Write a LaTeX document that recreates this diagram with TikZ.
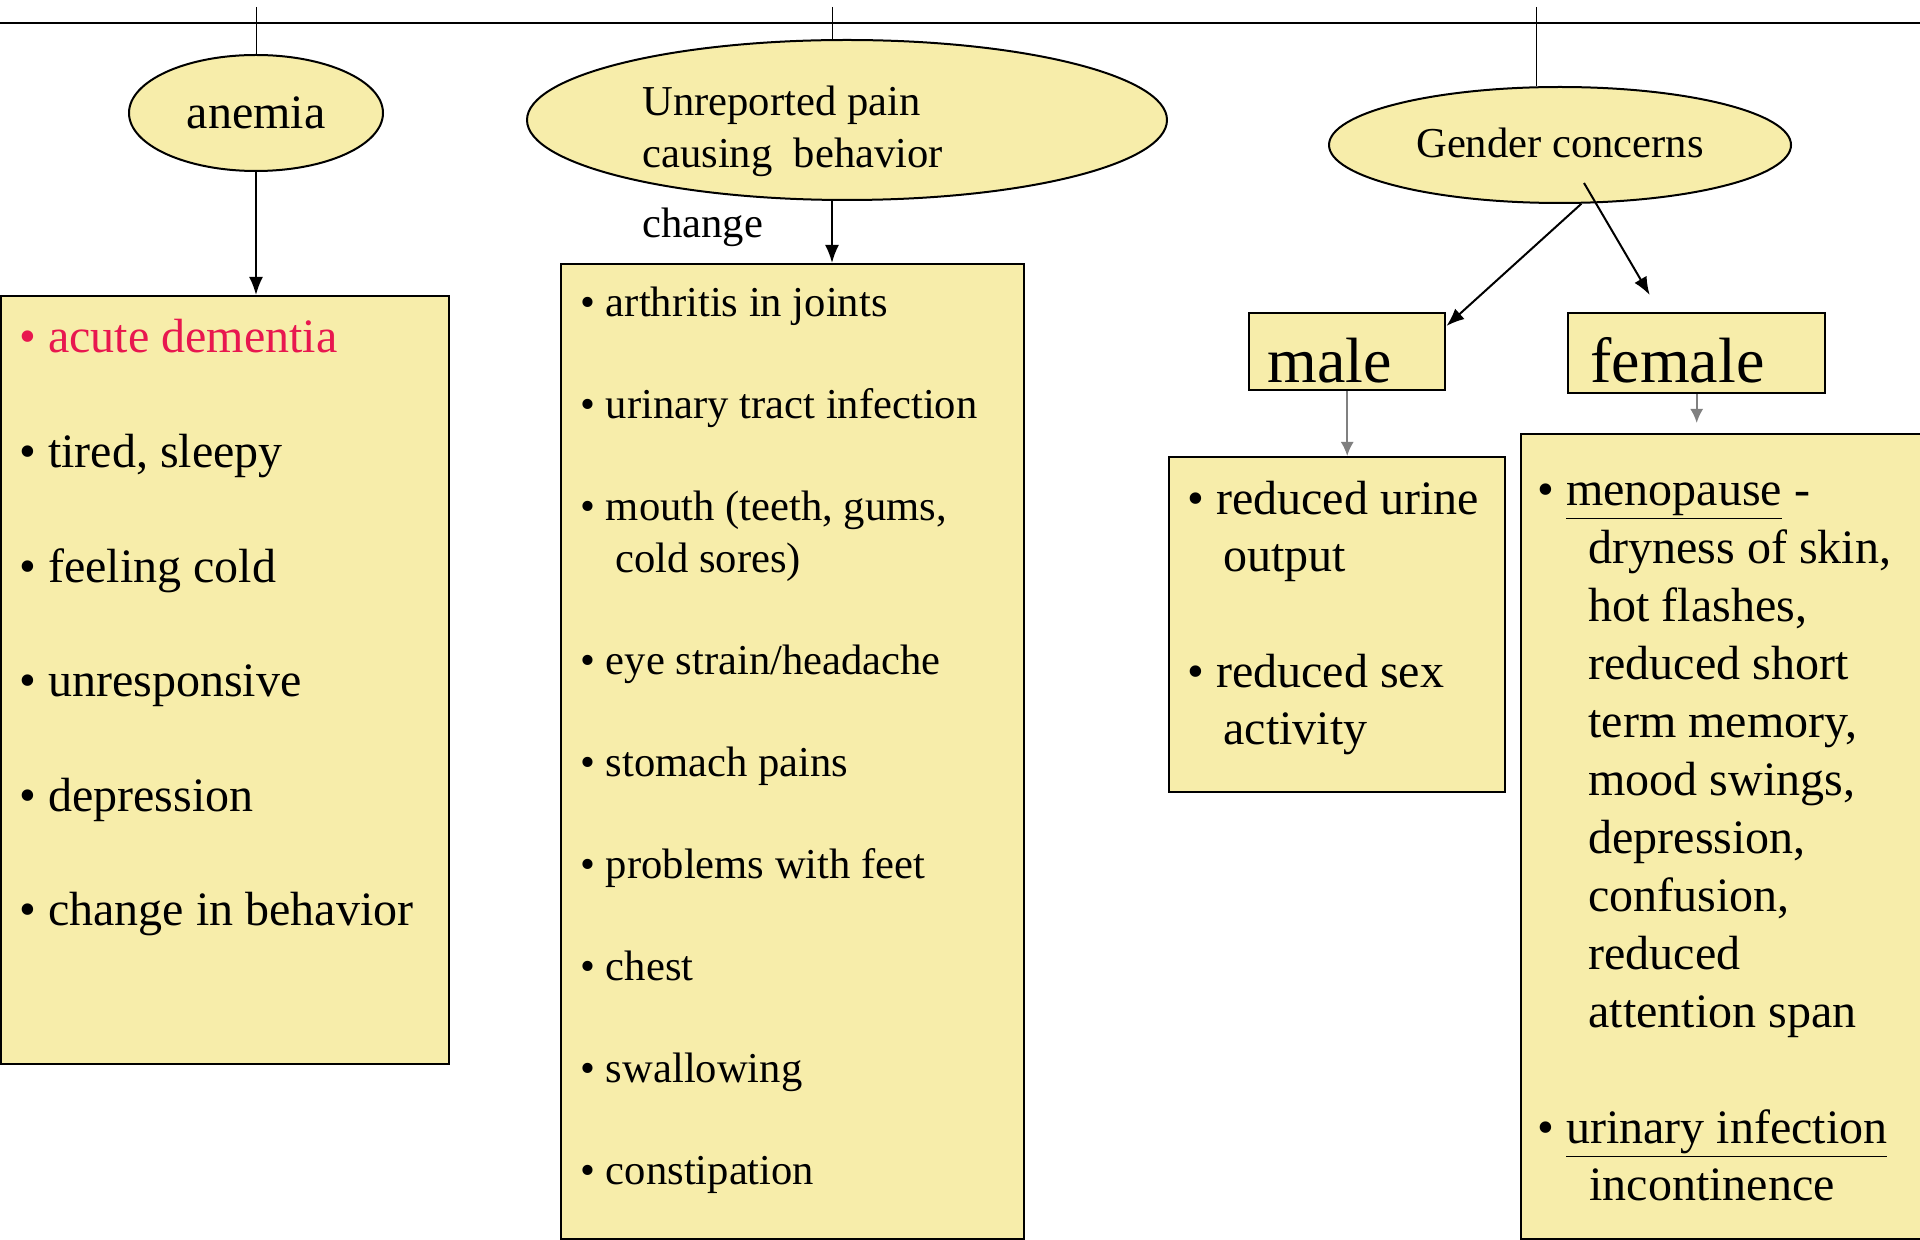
\documentclass[tikz,border=0pt]{standalone}
\usepackage{fontspec}
\setmainfont{Liberation Serif}
\usetikzlibrary{arrows.meta,calc,shapes.geometric}

\definecolor{boxfill}{HTML}{F7EDAA}
\definecolor{alertred}{HTML}{E8174F}
\newcommand{\bigfont}{\fontsize{24}{28}\selectfont}
\newcommand{\midfont}{\fontsize{21.3}{25}\selectfont}
\newcommand{\hugefont}{\fontsize{32}{36}\selectfont}

\tikzset{
  blob/.style={ellipse, draw, line width=1pt, fill=boxfill, inner sep=0pt},
  panel/.style={draw, line width=1.2pt, fill=boxfill, anchor=north west, inner sep=0pt},
  entry/.style={anchor=base west, inner sep=0pt},
  link/.style={line width=1pt, -{Latex[length=9pt,width=7pt]}},
  faint/.style={draw=gray, line width=1pt, -{Latex[length=7pt,width=6.5pt,fill=gray]}},
}

\begin{document}
\begin{tikzpicture}[x=0.5pt, y=-0.5pt]
\useasboundingbox (0,0) rectangle (1920,1240);

% top rule and ticks
\coordinate (ruleL) at (0,23);
\coordinate (ruleR) at (1920,23);
\coordinate (tickA) at (256,7);
\coordinate (tickB) at (832,7);
\coordinate (tickC) at (1536,7);
\draw[line width=1.2pt] (ruleL) -- (ruleR);

% ellipses
\node[blob, minimum width=127pt, minimum height=58pt, font=\bigfont] (anemia) at (256,113) {anemia};
\node[blob, minimum width=320pt, minimum height=80pt] (pain) at (847,120) {};
\node[entry, font=\midfont] (painA) at (642,115.5) {Unreported pain};
\node[entry, font=\midfont] (painB) at (642,167.5) {causing\ \ behavior};
\node[entry, font=\midfont] (painC) at (642,237.5) {change};
\node[blob, minimum width=231pt, minimum height=58pt] (gender) at (1560,145) {};
\node[anchor=base, inner sep=0pt, font=\midfont] (gendertext) at (1560,157.5) {Gender concerns};

\draw[line width=0.5pt] (tickA) -- (anemia.north);
\draw[line width=0.5pt] (tickB) -- (tickB |- pain.north);
\draw[line width=0.5pt] (tickC) -- (tickC |- gender.north);

% boxes
\node[panel, minimum width=224pt, minimum height=384pt] (anemiabox) at (0,295) {};
\node[panel, minimum width=231.5pt, minimum height=487.5pt] (painbox) at (560,263) {};
\node[panel, minimum width=98pt, minimum height=38.5pt] (male) at (1248,312) {};
\node[panel, minimum width=128.5pt, minimum height=40pt] (female) at (1567,312) {};
\node[panel, minimum width=168pt, minimum height=167.5pt] (malelist) at (1168,456) {};
\node[panel, minimum width=220pt, minimum height=402.5pt] (femalelist) at (1520,433) {};

\node[entry, font=\hugefont] (maletext) at (1267,383) {male};
\node[entry, font=\hugefont] (femaletext) at (1590,383) {female};

% connectors
\draw[link] (anemia.south) -- (anemia.south |- anemiabox.north);
\draw[link] (tickB |- pain.south) -- (tickB |- painbox.north);
\draw[link] (gender.-70) -- ($(male.north east)+(0,14)$);
\draw[link] ($(gender.center)+(24,38)$) -- ($(female.north)+(-47,-17)$);
\draw[faint] (male.south) -- (male.south |- malelist.north);
\draw[faint] (female.south) -- ($(female.south |- femalelist.north)+(0,-10)$);

% anemia items
\node[entry, font=\bigfont, text=alertred] (anA) at (19,353) {• acute dementia};
\node[entry, font=\bigfont] (anB) at (19,467.5) {• tired, sleepy};
\node[entry, font=\bigfont] (anC) at (19,582) {• feeling cold};
\node[entry, font=\bigfont] (anD) at (19,696.5) {• unresponsive};
\node[entry, font=\bigfont] (anE) at (19,811) {• depression};
\node[entry, font=\bigfont] (anF) at (19,925.5) {• change in behavior};

% pain items
\node[entry, font=\midfont] (pnA) at (580,316.5) {• arthritis in joints};
\node[entry, font=\midfont] (pnB) at (580,418.5) {• urinary tract infection};
\node[entry, font=\midfont] (pnC) at (580,520.5) {• mouth (teeth, gums,};
\node[entry, font=\midfont] (pnC2) at (615,572.5) {cold sores)};
\node[entry, font=\midfont] (pnD) at (580,674.5) {• eye strain/headache};
\node[entry, font=\midfont] (pnE) at (580,776.5) {• stomach pains};
\node[entry, font=\midfont] (pnF) at (580,878.5) {• problems with feet};
\node[entry, font=\midfont] (pnG) at (580,980.5) {• chest};
\node[entry, font=\midfont] (pnH) at (580,1082.5) {• swallowing};
\node[entry, font=\midfont] (pnI) at (580,1184.5) {• constipation};

% male items
\node[entry, font=\bigfont] (mlA) at (1187,514) {• reduced urine};
\node[entry, font=\bigfont] (mlA2) at (1223,571) {output};
\node[entry, font=\bigfont] (mlB) at (1187,687) {• reduced sex};
\node[entry, font=\bigfont] (mlB2) at (1223,744) {activity};

% female items
\node[entry, font=\bigfont] (fmA) at (1537,505) {• \underline{menopause} -};
\node[entry, font=\bigfont] (fmA1) at (1588,563) {dryness of skin,};
\node[entry, font=\bigfont] (fmA2) at (1588,621) {hot flashes,};
\node[entry, font=\bigfont] (fmA3) at (1588,679) {reduced short};
\node[entry, font=\bigfont] (fmA4) at (1588,737) {term memory,};
\node[entry, font=\bigfont] (fmA5) at (1588,795) {mood swings,};
\node[entry, font=\bigfont] (fmA6) at (1588,853) {depression,};
\node[entry, font=\bigfont] (fmA7) at (1588,911) {confusion,};
\node[entry, font=\bigfont] (fmA8) at (1588,969) {reduced};
\node[entry, font=\bigfont] (fmA9) at (1588,1027) {attention span};
\node[entry, font=\bigfont] (fmB) at (1537,1143) {• \underline{urinary infection}};
\node[entry, font=\bigfont] (fmB2) at (1589,1200) {incontinence};
\end{tikzpicture}
\end{document}
